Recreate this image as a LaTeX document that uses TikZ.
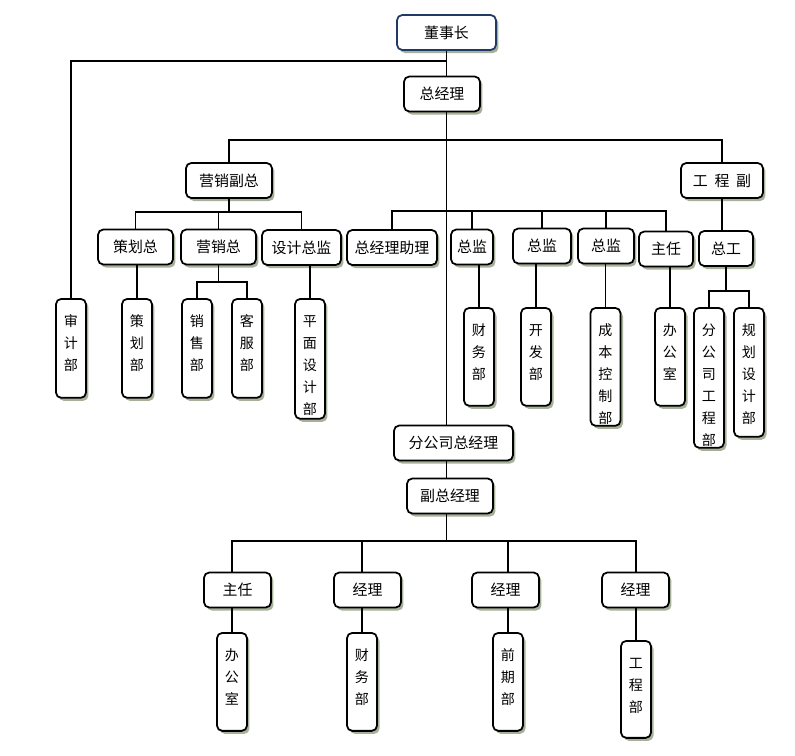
\documentclass[tikz,border=0pt]{standalone}
\usepackage{fontspec}
\newfontfamily\cjk{Noto Sans CJK SC}
\usetikzlibrary{shadows}
\definecolor{shadowgreen}{HTML}{9DA98E}
\definecolor{navyline}{HTML}{1F3A64}
\tikzset{
  box/.style={draw, line width=1pt, rounded corners=3pt, fill=white, inner sep=0pt,
    minimum height=0.7cm, font=\cjk\fontsize{8.5}{10}\selectfont,
    drop shadow={shadow xshift=0.05cm, shadow yshift=-0.06cm, fill=shadowgreen, opacity=0.9}},
  col/.style={box, anchor=north, minimum width=0.6cm, text width=0.6cm, align=center,
    font=\cjk\fontsize{8}{12.5}\selectfont, text height=0.55cm, text depth=#1cm-0.55cm},
  link/.style={line width=1.1pt}
}
\begin{document}
\begin{tikzpicture}[x=0.02cm,y=-0.02cm]
\useasboundingbox (0,0) rectangle (795,755);
% head office
\node[box, draw=navyline, minimum width=1.98cm] (dsz) at (446.5,32.5) {董事长};
\node[box, minimum width=1.52cm] (zjl) at (442,94) {总经理};
\node[box, minimum width=1.72cm] (yxfz) at (229,180.5) {营销副总};
\node[box, minimum width=1.64cm] (gcf) at (722,180.5) {工\hspace{0.45em}程\hspace{0.45em}副};
\node[box, minimum width=1.5cm] (chz) at (135.5,247) {策划总};
\node[box, minimum width=1.5cm] (yxz) at (218.5,247) {营销总};
\node[box, minimum width=1.58cm] (sjzj) at (301.5,247.5) {设计总监};
\node[box, minimum width=1.8cm] (zjlzl) at (392,247.5) {总经理助理};
\node[box, minimum width=0.84cm] (zj1) at (472,247) {总监};
\node[box, minimum width=1.16cm] (zj2) at (542,246) {总监};
\node[box, minimum width=1.12cm] (zj3) at (606,246) {总监};
\node[box, minimum width=1.08cm] (zr) at (666,249) {主任};
\node[box, minimum width=1.08cm] (zg) at (726,248.5) {总工};
\node[col=1.98] (sjb) at (71,298) {审\\计\\部};
\node[col=1.98] (chb) at (137,298) {策\\划\\部};
\node[col=1.98] (xsb) at (197,298) {销\\售\\部};
\node[col=1.98] (kfb) at (247,298) {客\\服\\部};
\node[col=2.4] (pmsjb) at (310,298) {平\\面\\设\\计\\部};
\node[col=1.96] (cwb) at (479,307) {财\\务\\部};
\node[col=1.96] (kfab) at (536,307) {开\\发\\部};
\node[col=2.36] (cbkzb) at (605.5,307) {成\\本\\控\\制\\部};
\node[col=1.96] (bgs) at (670,307) {办\\公\\室};
\node[col=2.8] (fgsgcb) at (709,307) {分\\公\\司\\工\\程\\部};
\node[col=2.58] (ghsjb) at (749,307) {规\\划\\设\\计\\部};
% branch office
\node[box, minimum width=2.38cm] (fgszjl) at (453.5,443) {分公司总经理};
\node[box, minimum width=1.72cm] (fzjl) at (450,496) {副总经理};
\node[box, minimum width=1.34cm] (zr2) at (237.5,590) {主任};
\node[box, minimum width=1.34cm] (jl1) at (367.5,590) {经理};
\node[box, minimum width=1.34cm] (jl2) at (505.5,590) {经理};
\node[box, minimum width=1.34cm] (jl3) at (635.5,590) {经理};
\node[col=1.96] (bgs2) at (232,632) {办\\公\\室};
\node[col=1.96] (cwb2) at (362,632) {财\\务\\部};
\node[col=1.96] (qqb) at (508,632) {前\\期\\部};
\node[col=1.94] (gcb) at (636,640) {工\\程\\部};
% buses
\coordinate (b1) at (0,61);
\coordinate (b2) at (0,140);
\coordinate (b3) at (0,212);
\coordinate (b4) at (0,211);
\coordinate (b5) at (0,282);
\coordinate (b6) at (0,291);
\coordinate (b7) at (0,541);
% connectors
\draw[link] (dsz.south) -- (dsz.south |- zjl.north);
\draw[link] (dsz.south |- zjl.south) -- (dsz.south |- fgszjl.north);
\draw[link] (dsz.south |- fgszjl.south) -- (dsz.south |- fzjl.north);
\draw[link] (sjb.north) |- (dsz.south |- b1);
\draw[link] (yxfz.north) |- (gcf.north |- b2) -- (gcf.north);
\draw[link] (yxfz.south) -- (yxfz.south |- b3);
\draw[link] (chz.north) |- (sjzj.north |- b3) -- (sjzj.north);
\draw[link] (yxz.north) -- (yxz.north |- b3);
\draw[link] (zjlzl.north) |- (zr.north |- b4) -- (zr.north);
\draw[link] (zj1.north) -- (zj1.north |- b4);
\draw[link] (zj2.north) -- (zj2.north |- b4);
\draw[link] (zj3.north) -- (zj3.north |- b4);
\draw[link] (gcf.south) -- (gcf.south |- zg.north);
\draw[link] (chb.north |- chz.south) -- (chb.north);
\draw[link] (yxz.south) -- (yxz.south |- b5);
\draw[link] (xsb.north) |- (kfb.north |- b5) -- (kfb.north);
\draw[link] (pmsjb.north |- sjzj.south) -- (pmsjb.north);
\draw[link] (cwb.north |- zj1.south) -- (cwb.north);
\draw[link] (kfab.north |- zj2.south) -- (kfab.north);
\draw[link] (cbkzb.north |- zj3.south) -- (cbkzb.north);
\draw[link] (bgs.north |- zr.south) -- (bgs.north);
\draw[link] (zg.south) -- (zg.south |- b6);
\draw[link] (fgsgcb.north) |- (ghsjb.north |- b6) -- (ghsjb.north);
\draw[link] (dsz.south |- fzjl.south) -- (dsz.south |- b7);
\draw[link] (bgs2.north |- zr2.north) |- (gcb.north |- b7) -- (gcb.north |- jl3.north);
\draw[link] (cwb2.north |- b7) -- (cwb2.north |- jl1.north);
\draw[link] (qqb.north |- b7) -- (qqb.north |- jl2.north);
\draw[link] (bgs2.north |- zr2.south) -- (bgs2.north);
\draw[link] (cwb2.north |- jl1.south) -- (cwb2.north);
\draw[link] (qqb.north |- jl2.south) -- (qqb.north);
\draw[link] (gcb.north |- jl3.south) -- (gcb.north);
\end{tikzpicture}
\end{document}
